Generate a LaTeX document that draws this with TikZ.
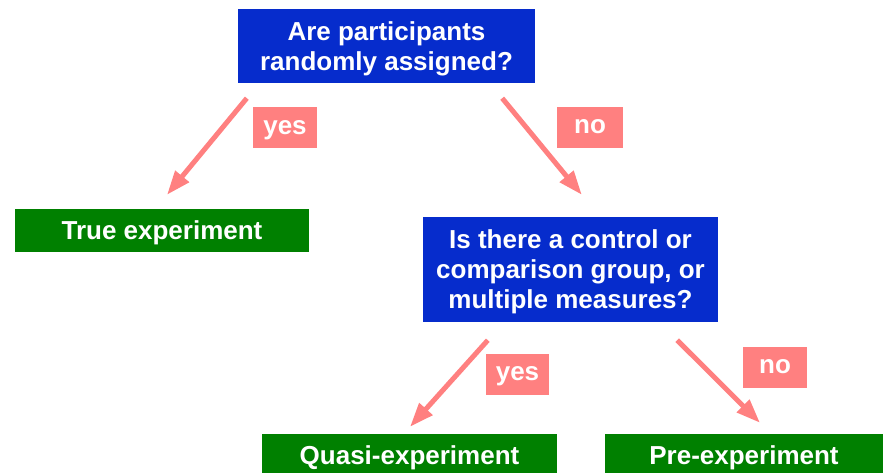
\documentclass[tikz,border=0pt]{standalone}
\usepackage{fontspec}
\setmainfont{Liberation Sans}
\usetikzlibrary{arrows.meta}
\definecolor{qblue}{RGB}{6,44,204}
\definecolor{rgreen}{RGB}{0,128,0}
\definecolor{lpink}{RGB}{255,128,128}
\begin{document}
\begin{tikzpicture}[x=1pt,y=-1pt,
	qbox/.style={fill=qblue,text=white,align=center,inner sep=0pt,text depth=0pt,font=\fontsize{26}{30}\selectfont\bfseries},
	resbox/.style={fill=rgreen,text=white,inner sep=0pt,text height=18.6pt,text depth=0pt,minimum height=43pt,font=\fontsize{26}{30}\selectfont\bfseries},
	lab/.style={fill=lpink,text=white,inner sep=0pt,text height=13.5pt,text depth=0pt,minimum height=41pt,font=\fontsize{26}{30}\selectfont\bfseries},
	arr/.style={draw=lpink,line width=5pt,-{Triangle[length=24pt,width=17pt]}}]
	\clip (0,0) rectangle (886,472);
	\fill[white] (0,0) rectangle (886,472);
	% questions
	\node[qbox,minimum width=297pt,minimum height=74pt] (q1) at (386.5,46) {Are participants\\randomly assigned?};
	\node[qbox,minimum width=295pt,minimum height=105pt] (q2) at (570.5,269.5) {Is there a control or\\comparison group, or\\multiple measures?};
	% outcomes
	\node[resbox,minimum width=294pt] (true) at (162,230.5) {True experiment};
	\node[resbox,minimum width=295pt] (quasi) at (409.5,455.5) {Quasi-experiment};
	\node[resbox,minimum width=278pt] (pre) at (744,455.5) {Pre-experiment};
	% connectors
	\draw[arr] ([xshift=9pt,yshift=-15pt]q1.south west) -- ([xshift=5pt,yshift=14pt]true.north);
	\draw[arr] ([xshift=-33pt,yshift=-15pt]q1.south east) -- ([xshift=159pt,yshift=22pt]q2.north west);
	\draw[arr] ([xshift=65pt,yshift=-18pt]q2.south west) -- ([xshift=0.5pt,yshift=7pt]quasi.north);
	\draw[arr] ([xshift=-41pt,yshift=-18pt]q2.south east) -- ([xshift=16pt,yshift=11pt]pre.north);
	% labels
	\node[lab,minimum width=64pt] (yes1) at (285,127.5) {yes};
	\node[lab,minimum width=66pt] (no1) at (590,127) {no};
	\node[lab,minimum width=63pt] (yes2) at (517.5,374) {yes};
	\node[lab,minimum width=64pt] (no2) at (775,367) {no};
\end{tikzpicture}
\end{document}
